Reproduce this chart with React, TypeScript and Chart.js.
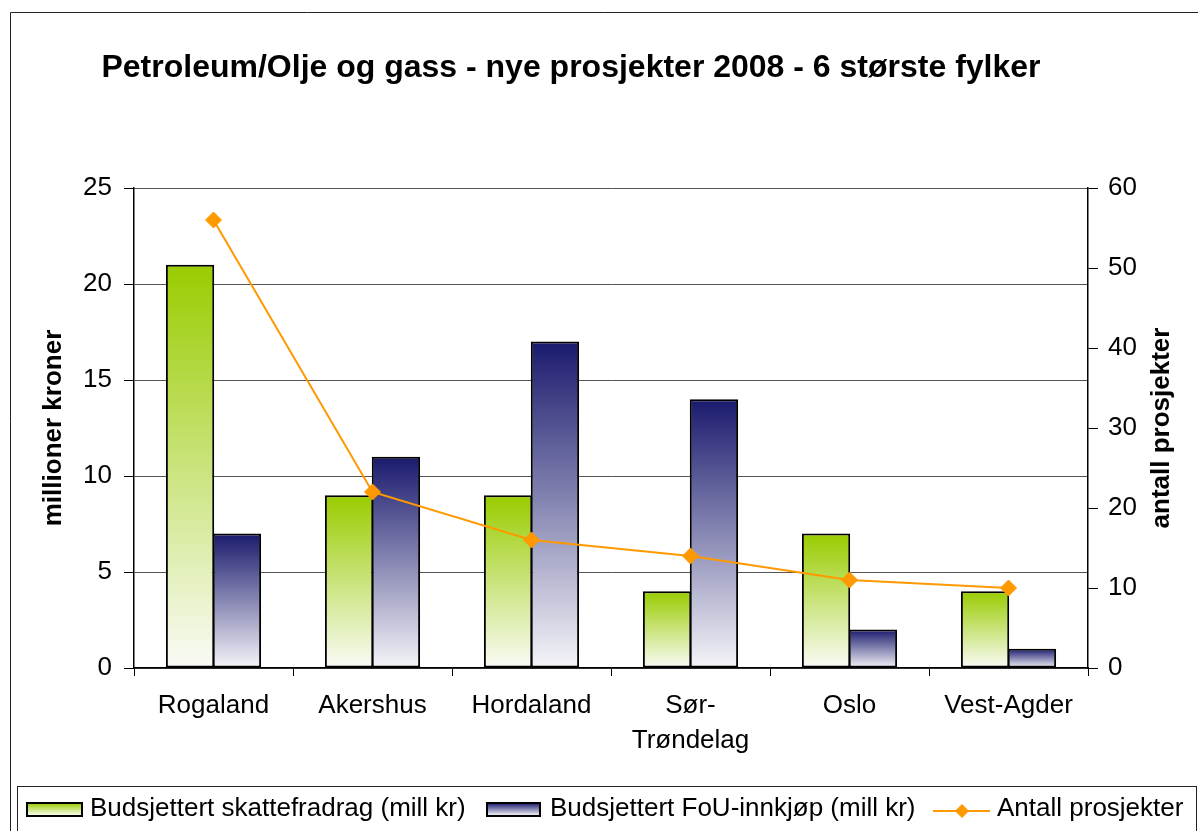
import React, { useEffect, useRef } from 'react';
import { Chart, registerables } from 'chart.js';

Chart.register(...registerables);

const chartTitle = 'Petroleum/Olje og gass - nye prosjekter 2008 - 6 største fylker';
const categories: (string | string[])[] = ['Rogaland', 'Akershus', 'Hordaland', ['Sør-', 'Trøndelag'], 'Oslo', 'Vest-Agder'];
const skattefradrag = [21, 9, 9, 4, 7, 4];
const fouInnkjop = [7, 11, 17, 14, 2, 1];
const antallProsjekter = [56, 22, 16, 14, 11, 10];
const leftTicks = [0, 5, 10, 15, 20, 25];
const rightTicks = [0, 10, 20, 30, 40, 50, 60];
const seriesNames = ['Budsjettert skattefradrag (mill kr)', 'Budsjettert FoU-innkjøp (mill kr)', 'Antall prosjekter'];
const leftAxisTitle = 'millioner kroner';
const rightAxisTitle = 'antall prosjekter';

const FONT = "'Liberation Sans', Arial, sans-serif";
const GREEN_TOP = '#99cc00';
const GREEN_BOTTOM = '#fafbf7';
const NAVY_TOP = '#1a1a6e';
const NAVY_BOTTOM = '#f5f5f9';
const ORANGE = '#ff9900';

function barGradient(top: string, bottom: string) {
  return (ctx: any) => {
    const chart = ctx.chart;
    const y = chart.scales && chart.scales.y;
    if (!y || ctx.type !== 'data' || !chart.chartArea) return top;
    const v = ctx.raw as number;
    const y0 = y.getPixelForValue(0);
    const y1 = y.getPixelForValue(v);
    if (!isFinite(y0) || !isFinite(y1) || y0 === y1) return top;
    const g = chart.ctx.createLinearGradient(0, y1, 0, y0);
    g.addColorStop(0, top);
    g.addColorStop(1, bottom);
    return g;
  };
}

const decorPlugin = {
  id: 'decor',
  beforeDraw(chart: any) {
    const ctx = chart.ctx;
    ctx.save();
    ctx.fillStyle = '#ffffff';
    ctx.fillRect(0, 0, chart.width, chart.height);
    ctx.strokeStyle = '#222';
    ctx.lineWidth = 1;
    ctx.beginPath();
    ctx.moveTo(10.5, chart.height);
    ctx.lineTo(10.5, 12.5);
    ctx.lineTo(chart.width, 12.5);
    ctx.stroke();
    ctx.restore();
  },
  afterDraw(chart: any) {
    const ctx = chart.ctx;
    ctx.save();
    // title
    ctx.fillStyle = '#000';
    ctx.font = `bold 32px ${FONT}`;
    ctx.textAlign = 'center';
    ctx.textBaseline = 'alphabetic';
    ctx.fillText(chartTitle, 571, 77);

    // right axis title
    const area = chart.chartArea;
    ctx.save();
    ctx.translate(1162, (area.top + area.bottom) / 2);
    ctx.rotate(-Math.PI / 2);
    ctx.font = `bold 26px ${FONT}`;
    ctx.textAlign = 'center';
    ctx.textBaseline = 'middle';
    ctx.fillText(rightAxisTitle, 0, 0);
    ctx.restore();

    // legend box
    ctx.strokeStyle = '#222';
    ctx.lineWidth = 1;
    ctx.strokeRect(17.5, 786.5, 1179, 80);

    const drawBox = (x: number, w: number, top: string, bottom: string) => {
      const g = ctx.createLinearGradient(0, 803, 0, 816);
      g.addColorStop(0, top);
      g.addColorStop(1, bottom);
      ctx.fillStyle = g;
      ctx.fillRect(x, 803, w, 13);
      ctx.strokeStyle = '#000';
      ctx.lineWidth = 2;
      ctx.strokeRect(x, 803, w, 13);
    };
    ctx.font = `26px ${FONT}`;
    ctx.textAlign = 'left';
    ctx.textBaseline = 'alphabetic';

    drawBox(27, 55, GREEN_TOP, '#ffffff');
    ctx.fillStyle = '#000';
    ctx.fillText(seriesNames[0], 90, 816);

    drawBox(487, 53, NAVY_TOP, '#ffffff');
    ctx.fillStyle = '#000';
    ctx.fillText(seriesNames[1], 550, 816);

    ctx.strokeStyle = ORANGE;
    ctx.lineWidth = 2;
    ctx.beginPath();
    ctx.moveTo(933, 811);
    ctx.lineTo(990, 811);
    ctx.stroke();
    ctx.fillStyle = ORANGE;
    ctx.beginPath();
    ctx.moveTo(962, 804);
    ctx.lineTo(969, 811);
    ctx.lineTo(962, 818);
    ctx.lineTo(955, 811);
    ctx.closePath();
    ctx.fill();
    ctx.fillStyle = '#000';
    ctx.fillText(seriesNames[2], 997, 816);
    ctx.restore();
  },
};

export default function App() {
  const canvasRef = useRef<HTMLCanvasElement | null>(null);

  useEffect(() => {
    if (!canvasRef.current) return;
    const chart = new Chart(canvasRef.current, {
      type: 'bar',
      data: {
        labels: categories as any,
        datasets: [
          {
            type: 'line',
            label: seriesNames[2],
            data: antallProsjekter,
            yAxisID: 'y1',
            borderColor: ORANGE,
            backgroundColor: ORANGE,
            borderWidth: 2,
            pointStyle: 'rectRot',
            pointRadius: 8,
            pointBackgroundColor: ORANGE,
            pointBorderColor: ORANGE,
            pointBorderWidth: 1,
            tension: 0,
            order: 0,
          } as any,
          {
            type: 'bar',
            label: seriesNames[0],
            data: skattefradrag,
            yAxisID: 'y',
            backgroundColor: barGradient(GREEN_TOP, GREEN_BOTTOM),
            borderColor: '#000',
            borderWidth: 2,
            borderSkipped: false,
            categoryPercentage: 0.59,
            barPercentage: 1.03,
            order: 1,
          } as any,
          {
            type: 'bar',
            label: seriesNames[1],
            data: fouInnkjop,
            yAxisID: 'y',
            backgroundColor: barGradient(NAVY_TOP, NAVY_BOTTOM),
            borderColor: '#000',
            borderWidth: 2,
            borderSkipped: false,
            categoryPercentage: 0.59,
            barPercentage: 1.03,
            order: 1,
          } as any,
        ],
      },
      options: {
        responsive: false,
        animation: false,
        devicePixelRatio: 1,
        layout: { padding: { left: 10, right: 0, top: 188, bottom: 0 } },
        plugins: {
          legend: { display: false },
          title: { display: false },
          tooltip: { enabled: false },
        },
        scales: {
          x: {
            type: 'category',
            offset: true,
            grid: {
              display: true,
              drawOnChartArea: false,
              drawTicks: true,
              tickLength: 8,
              tickColor: '#000',
              offset: true,
            },
            border: { display: true, color: '#000', width: 1.5 },
            ticks: {
              color: '#000',
              font: { family: FONT, size: 26, lineHeight: 1.35 },
              padding: 12,
              maxRotation: 0,
              minRotation: 0,
              autoSkip: false,
            },
            afterFit: (s: any) => { s.height = 163; },
          },
          y: {
            type: 'linear',
            position: 'left',
            min: leftTicks[0],
            max: leftTicks[leftTicks.length - 1],
            afterBuildTicks: (s: any) => { s.ticks = leftTicks.map((v) => ({ value: v })); },
            grid: {
              color: '#555',
              lineWidth: 1,
              drawTicks: true,
              tickLength: 10,
              tickColor: '#000',
            },
            border: { display: true, color: '#000', width: 1.5 },
            ticks: {
              color: '#000',
              font: { family: FONT, size: 26 },
              padding: 12,
            },
            title: {
              display: true,
              text: leftAxisTitle,
              color: '#000',
              font: { family: FONT, size: 26, weight: 'bold' },
              padding: { top: 28, bottom: 0 },
            },
            afterFit: (s: any) => { s.width = 124; },
          },
          y1: {
            type: 'linear',
            position: 'right',
            min: rightTicks[0],
            max: rightTicks[rightTicks.length - 1],
            afterBuildTicks: (s: any) => { s.ticks = rightTicks.map((v) => ({ value: v })); },
            grid: {
              drawOnChartArea: false,
              drawTicks: true,
              tickLength: 10,
              tickColor: '#000',
            },
            border: { display: true, color: '#000', width: 1.5 },
            ticks: {
              color: '#000',
              font: { family: FONT, size: 26 },
              padding: 10,
            },
            afterFit: (s: any) => { s.width = 110; },
          },
        },
      } as any,
      plugins: [decorPlugin],
    });
    return () => chart.destroy();
  }, []);

  return (
    <div style={{ position: 'fixed', left: 0, top: 0, width: 1198, height: 831, background: '#fff' }}>
      <canvas ref={canvasRef} width={1198} height={831} style={{ display: 'block', width: 1198, height: 831 }} />
    </div>
  );
}
